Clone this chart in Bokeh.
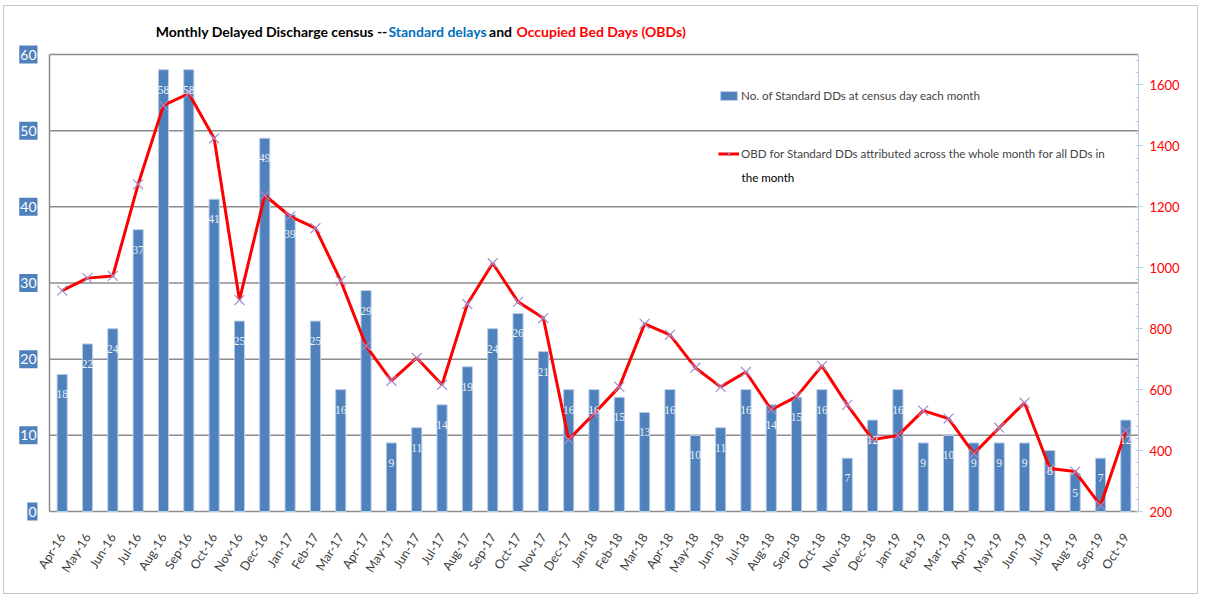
import math
from bokeh.plotting import figure
from bokeh.models import (ColumnDataSource, LinearAxis, Range1d, FixedTicker,
                          SingleIntervalTicker, LabelSet, Label, Legend, LegendItem)
from bokeh.embed import file_html
from bokeh.resources import INLINE

months = ["Apr-16", "May-16", "Jun-16", "Jul-16", "Aug-16", "Sep-16", "Oct-16", "Nov-16", "Dec-16",
          "Jan-17", "Feb-17", "Mar-17", "Apr-17", "May-17", "Jun-17", "Jul-17", "Aug-17", "Sep-17",
          "Oct-17", "Nov-17", "Dec-17", "Jan-18", "Feb-18", "Mar-18", "Apr-18", "May-18", "Jun-18",
          "Jul-18", "Aug-18", "Sep-18", "Oct-18", "Nov-18", "Dec-18", "Jan-19", "Feb-19", "Mar-19",
          "Apr-19", "May-19", "Jun-19", "Jul-19", "Aug-19", "Sep-19", "Oct-19"]
standard_dds = [18, 22, 24, 37, 58, 58, 41, 25, 49, 39, 25, 16, 29, 9, 11, 14, 19, 24, 26, 21, 16,
                16, 15, 13, 16, 10, 11, 16, 14, 15, 16, 7, 12, 16, 9, 10, 9, 9, 9, 8, 5, 7, 12]
obd_days = [925, 966, 973, 1274, 1533, 1572, 1425, 894, 1238, 1169, 1130, 957, 744, 629, 704, 616,
            881, 1015, 888, 835, 436, 521, 609, 816, 780, 672, 609, 658, 534, 577, 678, 550, 436,
            449, 531, 505, 390, 475, 557, 341, 331, 220, 465]
left_ticks = [0, 10, 20, 30, 40, 50, 60]
right_min, right_max = 200, 1700

FONT = "Lato"
BLUE = "#4F81BD"
GRID = "#8C8C8C"

# ---- layout (pixels in the page) ----
CANVAS_X, CANVAS_Y = 4, 6          # inner canvas origin (after margin + border)
W, H = 1195, 589
FRAME_L, FRAME_T, FRAME_R, FRAME_B = 15, 14, 1138, 527
AXIS_L, AXIS_T, AXIS_B = 49, 54, 511   # where the chart's own axes sit

n = len(months)
xs = list(range(n))
pitch = (FRAME_R - AXIS_L) / n
x_start = -0.5 - (AXIS_L - FRAME_L) / pitch
span_px = AXIS_B - AXIS_T
l_lo, l_hi = left_ticks[0], left_ticks[-1]
left_bottom = l_lo - (l_hi - l_lo) * (FRAME_B - AXIS_B) / span_px
left_top = l_hi + (l_hi - l_lo) * (AXIS_T - FRAME_T) / span_px
right_bottom = right_min - (right_max - right_min) * (FRAME_B - AXIS_B) / span_px
right_top = right_max + (right_max - right_min) * (AXIS_T - FRAME_T) / span_px

src = ColumnDataSource(dict(x=xs, month=months, dds=standard_dds, obd=obd_days,
                            dds_txt=[str(v) for v in standard_dds]))
grid_src = ColumnDataSource(dict(y=left_ticks, x0=[-0.5] * len(left_ticks),
                                 x1=[n - 0.5] * len(left_ticks)))

p = figure(x_range=Range1d(x_start, n - 0.5), y_range=Range1d(left_bottom, left_top),
           width=W, height=H, output_backend="svg", toolbar_location=None,
           min_border_left=FRAME_L - CANVAS_X, min_border_right=CANVAS_X + W - FRAME_R,
           min_border_top=FRAME_T - CANVAS_Y, min_border_bottom=CANVAS_Y + H - FRAME_B)
p.styles = {"border": "1px solid #C8C8C8", "margin-left": "3px", "margin-top": "5px"}
p.outline_line_color = None
p.background_fill_color = "white"
p.yaxis.visible = False
p.ygrid.visible = False
p.xgrid.visible = False

p.extra_y_ranges = {"obd": Range1d(right_bottom, right_top)}

# horizontal gridlines (the 0 line is the category axis line) and left axis line
p.segment(x0="x0", x1="x1", y0="y", y1="y", source=grid_src, line_color=GRID, line_width=1.5)
p.segment(x0=[-0.5], x1=[-0.5], y0=[l_lo], y1=[l_hi], line_color=GRID, line_width=1.5)

bars = p.vbar(x="x", top="dds", width=0.4, source=src, fill_color=BLUE,
              line_color="#B9CDE5", line_width=1)
line = p.line(x="x", y="obd", source=src, y_range_name="obd", line_color="#FF0000",
              line_width=3)
marks = p.scatter(x="x", y="obd", source=src, y_range_name="obd", marker="x", size=14,
                  line_color="#9F8FD0", line_width=1.2)

# bottom axis: only month labels (its line is the 0 gridline)
p.xaxis.ticker = FixedTicker(ticks=xs)
p.xaxis.major_label_overrides = {i: m for i, m in zip(xs, months)}
p.xaxis.axis_line_color = None
p.xaxis.major_tick_line_color = None
p.xaxis.minor_tick_line_color = None
p.xaxis.major_label_orientation = math.radians(58)
p.xaxis.major_label_text_font = FONT
p.xaxis.major_label_text_font_size = "12.5px"
p.xaxis.major_label_text_color = "#404040"
p.xaxis.major_label_standoff = 1

raxis = LinearAxis(y_range_name="obd", ticker=SingleIntervalTicker(interval=200, num_minor_ticks=5),
                   bounds=(right_min, right_max))
raxis.axis_line_color = "#B9CDE5"
raxis.major_tick_line_color = "#B9CDE5"
raxis.minor_tick_line_color = "#B9CDE5"
raxis.major_tick_in = 0
raxis.major_tick_out = 4
raxis.minor_tick_in = 3
raxis.minor_tick_out = 0
raxis.major_label_text_color = "#FF0000"
raxis.major_label_text_font = FONT
raxis.major_label_text_font_size = "13px"
raxis.major_label_standoff = 7
p.add_layout(raxis, "right")

# left tick labels in blue boxes
for t in left_ticks:
    lab = Label(x=-0.5, y=t, x_offset=-12, text=str(t),
                text_align="right", text_baseline="middle", text_color="white",
                text_font=FONT, text_font_size="14px",
                background_fill_color=BLUE)
    try:
        lab.padding = dict(x=1, y=4)
    except Exception:
        pass
    p.add_layout(lab)

# bar value labels
p.add_layout(LabelSet(x="x", y="dds", text="dds_txt", source=src, y_offset=-20,
                      text_align="center", text_baseline="middle", text_color="#F2F2F2",
                      text_font=FONT, text_font_size="11.5px"))

# title segments (page positions converted to frame-relative screen units)
title_y = 31
title_parts = [("Monthly  Delayed Discharge  census --", "#000000", 394, "right"),
               ("Standard delays", "#0070C0", 437, "center"),
               ("and", "#000000", 500, "center"),
               ("Occupied Bed Days (OBDs)", "#FF0000", 516, "left")]
for txt, col, xx, al in title_parts:
    p.add_layout(Label(x=xx - FRAME_L, y=FRAME_B - title_y, x_units="screen", y_units="screen",
                       text=txt, text_color=col, text_font=FONT, text_font_size="14px",
                       text_font_style="bold", text_align=al, text_baseline="middle"))

leg_kw = dict(background_fill_alpha=0, border_line_color=None, label_text_font=FONT,
              label_text_font_size="11.6px", glyph_width=21, glyph_height=11,
              padding=0, margin=0, label_standoff=2)
leg1 = Legend(items=[LegendItem(label="No. of Standard DDs at census day each month", renderers=[bars])],
              location=(718 - FRAME_L, FRAME_B - 102), **leg_kw)
leg2 = Legend(items=[LegendItem(label="OBD for Standard DDs attributed across the whole month for all DDs in",
                                renderers=[line, marks])],
              location=(718 - FRAME_L, FRAME_B - 160), **leg_kw)
p.add_layout(leg1, "center")
p.add_layout(leg2, "center")
p.add_layout(Label(x=741 - FRAME_L, y=FRAME_B - 177, x_units="screen", y_units="screen",
                   text="the month", text_font=FONT, text_font_size="11.6px", text_color="#000000",
                   text_baseline="middle"))

open("out.html", "w").write(file_html(p, INLINE))
